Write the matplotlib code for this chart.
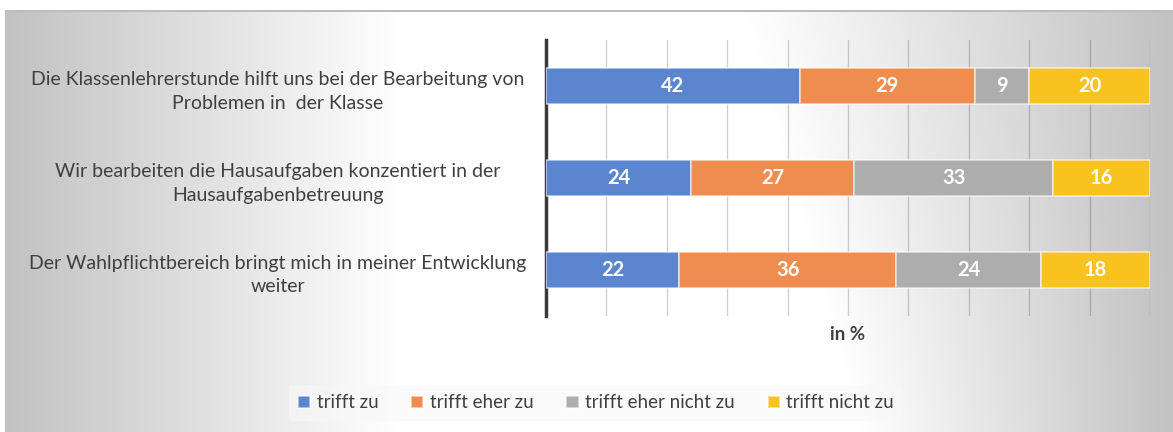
import matplotlib.pyplot as plt
import numpy as np

# Daten
aussagen = [
    'Die Klassenlehrerstunde hilft uns bei der Bearbeitung von\nProblemen in  der Klasse',
    'Wir bearbeiten die Hausaufgaben konzentiert in der\nHausaufgabenbetreuung',
    'Der Wahlpflichtbereich bringt mich in meiner Entwicklung\nweiter',
]
kategorien = ['trifft zu', 'trifft eher zu', 'trifft eher nicht zu', 'trifft nicht zu']
trifft_zu = [42, 24, 22]
trifft_eher_zu = [29, 27, 36]
trifft_eher_nicht_zu = [9, 33, 24]
trifft_nicht_zu = [20, 16, 18]
werte = [trifft_zu, trifft_eher_zu, trifft_eher_nicht_zu, trifft_nicht_zu]
farben = ['#5b86cf', '#ee8d4f', '#adadad', '#f8c21f']

plt.rcParams['font.family'] = ['Lato', 'DejaVu Sans']
textfarbe = '#404040'

W, H = 1173, 432
fig = plt.figure(figsize=(W / 100, H / 100), dpi=100)

# Hintergrund mit Verlauf (weiss in der Mitte, grau an den Raendern)
bg = fig.add_axes([0, 0, 1, 1])
yy, xx = np.mgrid[0:H, 0:W].astype(float)
links_d = np.clip((400 - xx) / 395, 0, 1)
rand_r = 740 + 120 * yy / H
rechts_d = np.clip((xx - rand_r) / (W - rand_r), 0, 1)
grau = 1 - 0.24 * np.maximum(links_d, rechts_d)
img = np.dstack([grau, grau, grau])
img[:10, :, :] = 1.0
img[:, :5, :] = 1.0
img[10:12, 5:, :] = 0.74
bg.imshow(img, extent=[0, W, H, 0], aspect='auto', interpolation='bilinear')
bg.set_xlim(0, W)
bg.set_ylim(H, 0)
bg.axis('off')

# Diagramm
ax = fig.add_axes([546 / W, 1 - 316 / H, 604 / W, 276 / H])
ax.set_facecolor('none')
y = np.arange(len(aussagen))
links = np.zeros(len(aussagen))
for name, vals, farbe in zip(kategorien, werte, farben):
    bars = ax.barh(y, vals, left=links, height=0.4, color=farbe,
                   edgecolor=(1, 1, 1, 0.6), linewidth=1.2, label=name, zorder=3)
    for bar, v in zip(bars, vals):
        ax.text(bar.get_x() + bar.get_width() / 2, bar.get_y() + bar.get_height() / 2,
                f'{v}', ha='center', va='center', color='white',
                fontsize=14.5, fontweight='bold', zorder=4)
    links += np.array(vals)

ax.set_xlim(0, 100)
ax.set_ylim(2.5, -0.5)
ax.set_xticks(np.arange(0, 101, 10))
ax.set_xticklabels([])
ax.set_yticks(y)
ax.set_yticklabels(aussagen, fontsize=14, color=textfarbe, ha='center', linespacing=1.5)
ax.tick_params(axis='y', length=0, pad=193)
ax.tick_params(axis='x', length=0)
ax.grid(axis='x', color='black', alpha=0.18, linewidth=1, zorder=0)
for s in ['top', 'right', 'bottom']:
    ax.spines[s].set_visible(False)
ax.spines['left'].set_color('#3a3a3a')
ax.spines['left'].set_linewidth(2.5)
ax.set_xlabel('in %', fontsize=13.5, fontweight='bold', color=textfarbe, labelpad=4)

fig.legend(loc='center', bbox_to_anchor=(596 / W, 1 - 403 / H), ncol=4, frameon=True,
           facecolor='#f8f8f8', edgecolor='none', framealpha=0.6, fontsize=13.5,
           labelcolor=textfarbe, handlelength=0.65, handleheight=0.65,
           handletextpad=0.35, columnspacing=1.75, borderpad=0.5)

fig.savefig('out.png', dpi=100)
